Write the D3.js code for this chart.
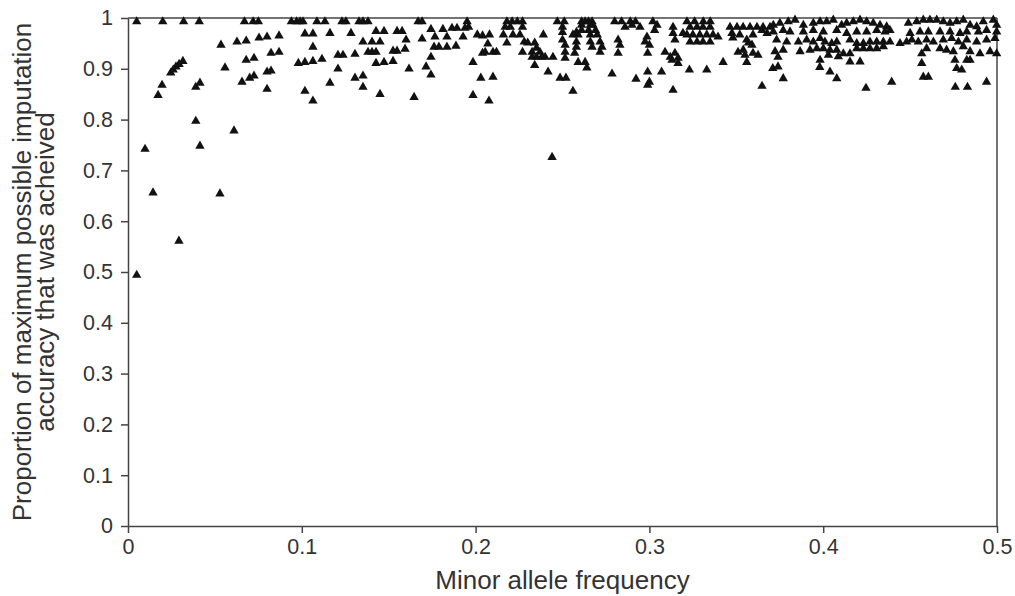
<!DOCTYPE html>
<html><head><meta charset="utf-8">
<script src="https://cdn.jsdelivr.net/npm/d3@7"></script>
<style>body{margin:0;background:#fff}</style>
</head><body><svg id="chart" width="1015" height="596"></svg>
<script>
const xTickValues = [0, 0.1, 0.2, 0.3, 0.4, 0.5];
const xTickLabels = ["0", "0.1", "0.2", "0.3", "0.4", "0.5"];
const yTickValues = [0, 0.1, 0.2, 0.3, 0.4, 0.5, 0.6, 0.7, 0.8, 0.9, 1];
const yTickLabels = ["0", "0.1", "0.2", "0.3", "0.4", "0.5", "0.6", "0.7", "0.8", "0.9", "1"];
const xTitle = "Minor allele frequency";
const yTitleLines = ["Proportion of maximum possible imputation", "accuracy that was acheived"];

// SNPs that reached the maximum (top row)
const topRowMaf = [0.005,0.020,0.032,0.041,0.067,0.072,0.075,0.094,0.097,0.099,0.1007,0.1087,0.1133,0.1231,0.1254,0.1329,0.1352,0.1381,0.1669,0.1692,0.1951,0.218,0.221,0.224,0.227,0.247,0.251,0.261,0.263,0.265,0.267,0.280,0.284,0.289,0.292,0.302,0.3216,0.326,0.331,0.335];
const topRowAccuracy = 0.993;

// other SNPs: [minor allele frequency, proportion achieved]
const lowMafPoints = [[0.005,0.494],[0.0098,0.742],[0.0144,0.656],[0.0173,0.848],[0.0196,0.868],[0.0246,0.892],[0.026,0.898],[0.0276,0.904],[0.0294,0.909],[0.0316,0.915],[0.0293,0.561],[0.039,0.864],[0.0414,0.872],[0.039,0.797],[0.0414,0.748],[0.0529,0.654],[0.0535,0.947],[0.0558,0.902],[0.061,0.778],[0.0627,0.953],[0.068,0.955],[0.068,0.917],[0.0725,0.921],[0.0656,0.874],[0.070,0.882],[0.0725,0.886],[0.080,0.860],[0.0754,0.961],[0.080,0.963],[0.0869,0.965],[0.0823,0.931],[0.0869,0.933],[0.080,0.894],[0.0823,0.896],[0.098,0.911]];
const midMafPoints = [[0.1018,0.969],[0.1064,0.969],[0.1162,0.970],[0.1283,0.970],[0.1427,0.974],[0.1473,0.974],[0.1548,0.974],[0.1577,0.974],[0.1743,0.978],[0.1812,0.978],[0.1864,0.980],[0.1893,0.980],[0.1939,0.980],
[0.1064,0.943],[0.1352,0.953],[0.1404,0.953],[0.1450,0.953],[0.1600,0.957],[0.1692,0.959],[0.1766,0.963],[0.1835,0.963],[0.1928,0.963],
[0.1381,0.933],[0.1404,0.933],[0.1427,0.933],[0.1306,0.929],[0.1208,0.927],[0.1237,0.927],[0.1525,0.935],[0.1548,0.935],[0.1594,0.939],[0.1761,0.943],[0.1789,0.943],[0.1835,0.943],[0.1887,0.945],
[0.1018,0.913],[0.1064,0.915],[0.1116,0.919],[0.1427,0.911],[0.1473,0.913],[0.1525,0.915],[0.1743,0.923],
[0.1208,0.900],[0.1617,0.900],[0.1715,0.904],[0.1743,0.888],[0.1306,0.882],[0.1352,0.886],[0.1162,0.872],[0.1352,0.864],[0.1018,0.856],[0.1064,0.837],[0.1450,0.850],[0.1646,0.844],
[0.196,0.982],[0.201,0.967],[0.204,0.965],[0.208,0.967],[0.217,0.982],[0.220,0.982],[0.227,0.982],[0.216,0.967],[0.2215,0.967],[0.2255,0.967],[0.218,0.951],[0.239,0.967],[0.207,0.949],[0.204,0.931],[0.2055,0.933],[0.210,0.933],[0.212,0.933],[0.228,0.953],[0.230,0.951],[0.227,0.933],[0.2325,0.933],[0.234,0.951],[0.235,0.941],[0.237,0.933],[0.2325,0.923],[0.235,0.923],[0.238,0.923],[0.240,0.923],[0.2445,0.923],[0.234,0.907],[0.1985,0.913],[0.2417,0.894],[0.203,0.882],[0.210,0.884],[0.2486,0.882],[0.252,0.882],[0.1985,0.848],[0.2077,0.837],[0.256,0.856],[0.2785,0.890],[0.2923,0.880],[0.244,0.726]];
const highMafPoints = [[0.250,0.982],[0.250,0.972],[0.250,0.957],[0.2515,0.947],[0.2515,0.933],[0.2515,0.921],
[0.258,0.972],[0.261,0.986],[0.2675,0.986],[0.266,0.986],[0.256,0.967],[0.259,0.967],[0.266,0.967],[0.270,0.967],[0.261,0.976],[0.265,0.976],[0.269,0.976],[0.258,0.953],[0.258,0.943],[0.266,0.953],[0.267,0.943],[0.2716,0.953],[0.2727,0.943],[0.2716,0.933],[0.257,0.931],[0.259,0.913],[0.263,0.913],[0.264,0.902],
[0.286,0.982],[0.290,0.986],[0.2946,0.982],[0.282,0.957],[0.283,0.947],[0.282,0.931],[0.299,0.894],[0.300,0.874],[0.307,0.894],
[0.3044,0.986],[0.303,0.976],[0.2986,0.963],[0.2975,0.953],[0.299,0.931],[0.300,0.947],
[0.309,0.933],[0.312,0.923],[0.3147,0.931],[0.3165,0.921],[0.3165,0.911],[0.313,0.917],
[0.3136,0.982],[0.3136,0.970],[0.3147,0.957],[0.3193,0.970],[0.323,0.898],[0.333,0.898],
[0.3234,0.982],[0.3274,0.982],[0.3308,0.982],[0.3349,0.982],[0.3216,0.967],[0.325,0.967],[0.329,0.967],[0.333,0.967],[0.3366,0.967],[0.3395,0.963],[0.3234,0.953],[0.3274,0.953],[0.3308,0.953],[0.3349,0.953],
[0.3424,0.913],[0.3464,0.982],[0.3504,0.982],[0.3539,0.982],[0.3579,0.982],[0.3619,0.982],[0.3654,0.982],[0.3694,0.982],
[0.348,0.961],[0.352,0.967],[0.356,0.957],[0.3596,0.967],[0.3648,0.976],
[0.351,0.933],[0.354,0.937],[0.355,0.927],[0.357,0.951],[0.359,0.947],[0.3596,0.931],[0.3625,0.927],
[0.3475,0.970],[0.3677,0.970],[0.356,0.913],[0.3648,0.866],[0.299,0.868],[0.3136,0.858],[0.371,0.901],[0.374,0.923],[0.374,0.904],
[0.3713,0.986],[0.3751,0.99],[0.3799,0.993],[0.3838,0.996],[0.3886,0.986],[0.3943,0.99],[0.3982,0.993],[0.402,0.993],[0.4058,0.996],[0.4106,0.986],[0.4135,0.99],[0.4173,0.993],[0.4212,0.996],[0.425,0.993],[0.4288,0.99],[0.4327,0.986],[0.4365,0.983],[0.449,0.99],[0.4538,0.993],[0.4576,0.996],[0.4614,0.996],[0.4653,0.996],[0.4691,0.993],[0.473,0.99],[0.4768,0.993],[0.4806,0.996],[0.4845,0.986],[0.4883,0.983],[0.4921,0.993],[0.4979,0.996],[0.4998,0.986],
[0.3713,0.973],[0.377,0.976],[0.3809,0.973],[0.3886,0.973],[0.3943,0.976],[0.4001,0.973],[0.4078,0.976],[0.4135,0.97],[0.4193,0.973],[0.425,0.973],[0.4308,0.976],[0.4356,0.973],[0.4384,0.976],[0.45,0.97],[0.4557,0.973],[0.4605,0.973],[0.4672,0.973],[0.473,0.973],[0.4787,0.97],[0.4826,0.973],[0.4893,0.973],[0.494,0.976],[0.4998,0.973],
[0.3732,0.957],[0.379,0.953],[0.3857,0.953],[0.3905,0.957],[0.3943,0.953],[0.3982,0.96],[0.401,0.953],[0.4049,0.95],[0.4078,0.953],[0.4154,0.957],[0.4193,0.95],[0.4231,0.95],[0.4269,0.953],[0.4308,0.953],[0.4346,0.953],[0.4384,0.953],[0.4442,0.95],[0.448,0.953],[0.451,0.957],[0.4547,0.953],[0.4595,0.957],[0.4634,0.953],[0.4691,0.957],[0.4739,0.96],[0.4778,0.953],[0.4826,0.957],[0.4883,0.953],[0.494,0.957],[0.4988,0.96],
[0.3723,0.934],[0.377,0.937],[0.3867,0.934],[0.3924,0.937],[0.3963,0.94],[0.4001,0.94],[0.4039,0.937],[0.4078,0.937],[0.4116,0.93],[0.4154,0.93],[0.4193,0.94],[0.4231,0.94],[0.4269,0.94],[0.4308,0.94],[0.4346,0.944],[0.4595,0.94],[0.4672,0.94],[0.471,0.937],[0.4749,0.934],[0.4806,0.944],[0.4845,0.934],[0.4902,0.93],[0.496,0.934],[0.4998,0.93],
[0.3982,0.917],[0.403,0.927],[0.4087,0.924],[0.4154,0.914],[0.4212,0.914],[0.4567,0.93],[0.4567,0.911],[0.4758,0.917],[0.4826,0.917],[0.4845,0.917],
[0.377,0.881],[0.4039,0.894],[0.4078,0.881],[0.4394,0.874],[0.4576,0.884],[0.4605,0.884],[0.4768,0.901],[0.4797,0.898],[0.494,0.874],[0.398,0.903],
[0.4246,0.862],[0.476,0.864],[0.483,0.864]];

const points = topRowMaf.map(m => [m, topRowAccuracy]).concat(lowMafPoints, midMafPoints, highMafPoints);

const svg = d3.select("#chart");
const M = { left: 128, right: 997, top: 18, bottom: 526 };
const x = d3.scaleLinear().domain([0, 0.5]).range([M.left, M.right]);
const y = d3.scaleLinear().domain([0, 1]).range([M.bottom, M.top]);
const axisColor = "#444";
const textColor = "#333";
const font = "'Liberation Sans', Arial, sans-serif";

// frame lines (top and right)
svg.append("line").attr("x1", M.left).attr("x2", M.right).attr("y1", y(1)).attr("y2", y(1))
  .attr("stroke", axisColor).attr("stroke-width", 1.5);
svg.append("line").attr("x1", M.right).attr("x2", M.right).attr("y1", y(1)).attr("y2", M.bottom)
  .attr("stroke", axisColor).attr("stroke-width", 1.5);

const xAxis = svg.append("g").attr("transform", `translate(0,${M.bottom})`)
  .call(d3.axisBottom(x).tickValues(xTickValues).tickFormat((d, i) => xTickLabels[i]).tickSize(7).tickSizeOuter(0).tickPadding(6));
const yAxis = svg.append("g").attr("transform", `translate(${M.left},0)`)
  .call(d3.axisLeft(y).tickValues(yTickValues).tickFormat((d, i) => yTickLabels[i]).tickSize(7).tickSizeOuter(0).tickPadding(8));
[xAxis, yAxis].forEach(g => {
  g.select(".domain").attr("stroke", axisColor).attr("stroke-width", 1.5);
  g.selectAll(".tick line").attr("stroke", axisColor).attr("stroke-width", 1.5);
  g.selectAll(".tick text").attr("fill", textColor).style("font-family", font).style("font-size", "21.5px");
});

const tri = d3.symbol().type(d3.symbolTriangle).size(38);
svg.append("g").selectAll("path").data(points).join("path")
  .attr("d", tri)
  .attr("transform", d => `translate(${x(d[0])},${y(d[1])})`)
  .attr("fill", "#111");

svg.append("text").attr("x", (M.left + M.right) / 2).attr("y", 589).attr("text-anchor", "middle")
  .attr("fill", textColor).style("font-family", font).style("font-size", "26px").text(xTitle);

const yt = svg.append("g").attr("transform", `translate(0,${(M.top + M.bottom) / 2}) rotate(-90)`);
yTitleLines.forEach((t, i) => {
  yt.append("text").attr("x", 0).attr("y", 31 + i * 23).attr("text-anchor", "middle")
    .attr("fill", textColor).style("font-family", font).style("font-size", "26px").text(t);
});
</script></body></html>
